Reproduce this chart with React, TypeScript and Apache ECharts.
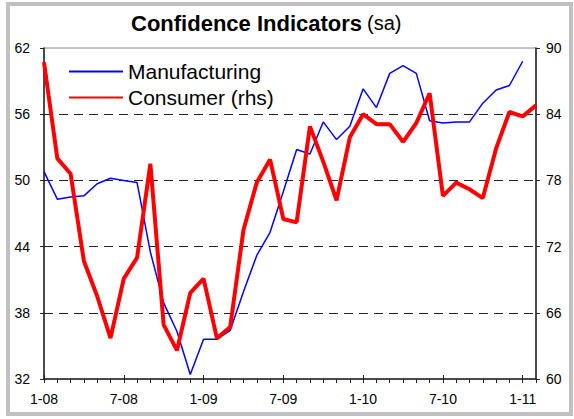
import React, { useEffect, useRef } from "react";
import * as echarts from "echarts";

const months: string[] = [
  "1-08","2-08","3-08","4-08","5-08","6-08","7-08","8-08","9-08","10-08","11-08","12-08",
  "1-09","2-09","3-09","4-09","5-09","6-09","7-09","8-09","9-09","10-09","11-09","12-09",
  "1-10","2-10","3-10","4-10","5-10","6-10","7-10","8-10","9-10","10-10","11-10","12-10",
  "1-11","2-11",
];

const manufacturing: (number | null)[] = [
  50.8, 48.3, 48.5, 48.6, 49.7, 50.2, 50.0, 49.8, 43.5, 38.9, 36.3, 32.4,
  35.6, 35.6, 36.4, 39.9, 43.2, 45.3, 49.0, 52.8, 52.4, 55.3, 53.7, 54.9,
  58.3, 56.6, 59.7, 60.4, 59.7, 55.4, 55.2, 55.3, 55.3, 57.0, 58.2, 58.6,
  60.8,
];

const consumer: number[] = [
  88.7, 80.0, 78.6, 70.7, 67.5, 63.7, 69.1, 71.0, 79.5, 64.9, 62.6, 67.8,
  69.1, 63.7, 64.7, 73.5, 77.8, 79.9, 74.5, 74.2, 82.9, 79.7, 76.2, 81.9,
  84.0, 83.1, 83.1, 81.5, 83.2, 85.9, 76.6, 77.8, 77.2, 76.4, 80.9, 84.2,
  83.8, 84.8,
];

const FONT = "Arial, 'Liberation Sans', sans-serif";

export default function App() {
  const ref = useRef<HTMLDivElement>(null);
  useEffect(() => {
    if (!ref.current) return;
    const chart = echarts.init(ref.current, undefined, { renderer: "svg" });
    chart.setOption({
      animation: false,
      backgroundColor: "#ffffff",
      title: {
        text: "{b|Confidence Indicators} {n|(sa)}",
        left: 126,
        top: 7,
        textStyle: {
          rich: {
            b: { fontFamily: FONT, fontSize: 22, fontWeight: "bold", color: "#000" },
            n: { fontFamily: FONT, fontSize: 20, fontWeight: "normal", color: "#000" },
          },
        },
      },
      graphic: [
        {
          type: "rect",
          shape: { x: 8, y: 4, width: 563, height: 410 },
          style: { fill: "none", stroke: "#c0c0c0", lineWidth: 4 },
          silent: true,
        },
      ],
      legend: {
        orient: "vertical",
        left: 68,
        top: 61,
        padding: 0,
        itemWidth: 54,
        itemHeight: 14,
        itemGap: 5,
        itemStyle: { opacity: 0 },
        textStyle: { fontFamily: FONT, fontSize: 21, color: "#000", lineHeight: 20 },
        data: ["Manufacturing", "Consumer (rhs)"],
      },
      grid: {
        left: 44,
        right: 38,
        top: 48,
        bottom: 40,
        show: true,
        borderColor: "#888",
        borderWidth: 1,
        backgroundColor: "transparent",
      },
      xAxis: [
        {
          type: "category",
          data: months,
          boundaryGap: false,
          position: "bottom",
          axisLine: { show: true, lineStyle: { color: "#222", width: 1.5 } },
          axisTick: { show: true, interval: 0, length: 4, inside: false, lineStyle: { color: "#222" } },
          axisLabel: {
            interval: 5,
            margin: 13,
            fontFamily: FONT,
            fontSize: 14,
            color: "#000",
          },
          splitLine: { show: false },
        },
        {
          type: "category",
          data: months,
          boundaryGap: false,
          position: "bottom",
          axisLine: { show: false },
          axisTick: { show: true, interval: 5, length: 4, inside: true, lineStyle: { color: "#222" } },
          axisLabel: { show: false },
          splitLine: { show: false },
        },
      ],
      yAxis: [
        {
          type: "value",
          min: 32,
          max: 62,
          interval: 6,
          position: "left",
          axisLine: { show: true, lineStyle: { color: "#222", width: 1.5 } },
          axisTick: { show: true, length: 4, lineStyle: { color: "#222" } },
          axisLabel: { margin: 14, fontFamily: FONT, fontSize: 14, color: "#000" },
          splitLine: {
            show: true,
            showMinLine: false,
            showMaxLine: false,
            lineStyle: { color: "#222", type: [9, 6], width: 1 },
          },
        },
        {
          type: "value",
          min: 60,
          max: 90,
          interval: 6,
          position: "right",
          axisLine: { show: true, lineStyle: { color: "#222", width: 1.5 } },
          axisTick: { show: true, length: 4, lineStyle: { color: "#222" } },
          axisLabel: { margin: 10, fontFamily: FONT, fontSize: 14, color: "#000" },
          splitLine: { show: false },
        },
      ],
      series: [
        {
          name: "Manufacturing",
          type: "line",
          xAxisIndex: 0,
          yAxisIndex: 0,
          data: manufacturing,
          symbol: "none",
          color: "#0000ff",
          lineStyle: { color: "#0000ff", width: 1.5 },
          z: 3,
        },
        {
          name: "Consumer (rhs)",
          type: "line",
          xAxisIndex: 0,
          yAxisIndex: 1,
          data: consumer,
          symbol: "none",
          color: "#ff0000",
          lineStyle: { color: "#ff0000", width: 4 },
          z: 4,
        },
      ],
    });
    return () => chart.dispose();
  }, []);
  return (
    <div
      ref={ref}
      style={{ position: "fixed", left: 0, top: 0, width: 574, height: 419 }}
    />
  );
}
